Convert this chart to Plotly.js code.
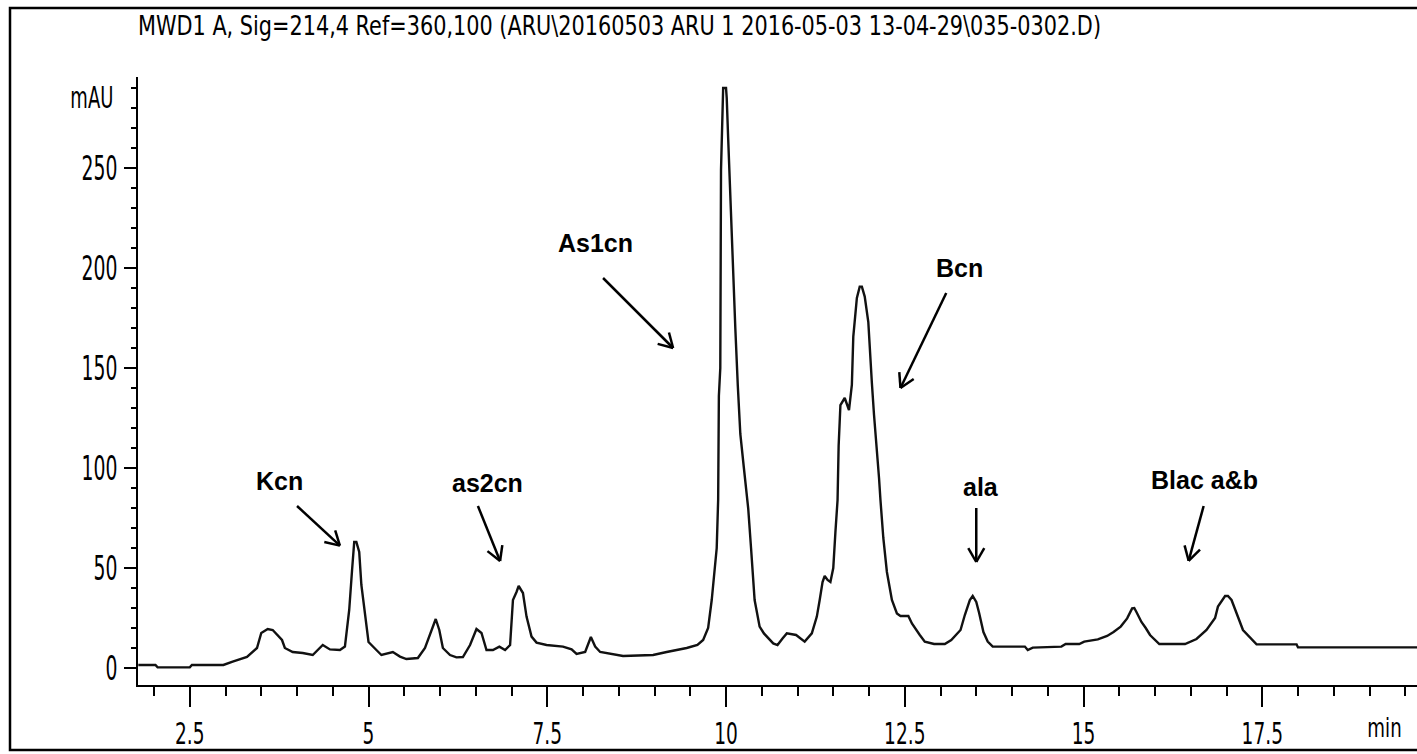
<!DOCTYPE html>
<html>
<head>
<meta charset="utf-8">
<script src="https://cdn.plot.ly/plotly-3.0.1.min.js"></script>
<style>html,body{margin:0;padding:0;background:#fff;}#chart{width:1417px;height:754px;}</style>
</head>
<body>
<div id="chart"></div>
<script>
// Retention time (min)
const time = [1.78,2.02,2.05,2.5,2.53,2.97,3.1,3.3,3.44,3.5,3.59,3.66,3.79,3.83,3.94,4.08,4.22,4.36,4.46,4.6,4.67,4.73,4.77,4.8,4.83,4.87,4.9,4.95,5.0,5.11,5.18,5.34,5.44,5.53,5.69,5.79,5.88,5.94,5.99,6.04,6.14,6.23,6.32,6.42,6.51,6.58,6.65,6.74,6.83,6.91,6.98,7.02,7.07,7.1,7.16,7.21,7.28,7.35,7.49,7.72,7.84,7.91,8.03,8.11,8.17,8.24,8.56,8.98,9.17,9.45,9.6,9.68,9.75,9.8,9.87,9.89,9.9,9.92,9.93,9.96,10.0,10.01,10.03,10.06,10.09,10.13,10.165,10.2,10.25,10.285,10.31,10.35,10.4,10.47,10.53,10.66,10.72,10.79,10.85,10.98,11.1,11.2,11.27,11.31,11.35,11.38,11.42,11.46,11.5,11.53,11.56,11.575,11.6,11.66,11.72,11.76,11.78,11.83,11.87,11.9,11.94,11.99,12.01,12.04,12.07,12.11,12.14,12.16,12.2,12.25,12.32,12.39,12.44,12.55,12.6,12.71,12.78,12.91,13.06,13.15,13.28,13.34,13.41,13.45,13.5,13.54,13.6,13.66,13.73,14.18,14.22,14.29,14.69,14.75,14.94,15.01,15.2,15.33,15.42,15.52,15.61,15.68,15.71,15.74,15.81,15.87,15.93,16.06,16.42,16.58,16.72,16.84,16.88,16.98,17.02,17.07,17.14,17.23,17.42,17.98,18.0,19.7];
// Absorbance (mAU)
const mAU = [1.5,1.5,0.3,0.3,1.5,1.5,3.2,5.5,10,17.5,19.5,19,14,10,8,7.5,6.5,11.5,9.3,9,10.7,29,49,63,63,58,41.5,25.7,13,9,6.5,8,5.7,4.5,5,10,19,24.5,19,10,6.5,5.3,5.5,11.5,19.5,17.5,9,9,10.7,9,11.5,34,38,41,37.5,25.7,15.7,12.7,11.5,10.7,9.3,7,8,15.5,10.7,8,6,6.5,8,10,11.5,14,20,34,60,84,136,150,249,290,290,285,265,235,203,170,141,117,100,89,80,60,34,20.7,17.3,12.3,11.5,14.8,17.3,16.5,13.2,17.3,25.7,34,43,46,44,43,50,68,84,111,131.5,135,129,141.5,165.7,185,190.7,190.7,185.7,173,158,142.5,126.5,110,95,84,65,48,34,27.3,26,26,22.3,16.5,13.2,12,12,14,19,26.5,34,36,33,27.5,18,13.2,10.7,10.7,9,10.2,10.7,12,12,13.2,14.3,16,18,20.7,24.8,29.8,30,28,23,20,16.5,12,12,14.5,19,25,30.7,36,36,34,27.5,19,11.8,11.8,10.3,10.3];

// Peak labels and arrows (label position, arrow tail, arrow head) in data units
const peakNames = ["Kcn","as2cn","As1cn","Bcn","ala","Blac a&b"];
const labelX = [3.76, 6.67, 8.18, 13.27, 13.57, 16.69];
const labelY = [93.5, 92.5, 212.5, 200, 90.5, 94];
const tailX  = [4.0, 6.53, 8.28, 13.08, 13.5, 16.68];
const tailY  = [81, 81, 195, 187.5, 80, 81];
const headX  = [4.6, 6.84, 9.26, 12.44, 13.5, 16.47];
const headY  = [61.2, 53.5, 160, 140, 53, 53.6];

const xTicks = [2.5, 5, 7.5, 10, 12.5, 15, 17.5];
const yTicks = [0, 50, 100, 150, 200, 250];

const titleText = "MWD1 A, Sig=214,4 Ref=360,100 (ARU\\20160503 ARU 1 2016-05-03 13-04-29\\035-0302.D)";

const W = 1417, H = 754;
const M = {l:138, r:0, t:77, b:69};
const xRange = [1.776, 19.664];
const yRange = [-8.5, 295.5];
const plotW = W - M.l - M.r, plotH = H - M.t - M.b;
const toPx = (x,y) => [M.l + (x - xRange[0])/(xRange[1]-xRange[0])*plotW, M.t + (yRange[1]-y)/(yRange[1]-yRange[0])*plotH];
const toData = (px,py) => [xRange[0] + (px - M.l)/plotW*(xRange[1]-xRange[0]), yRange[1] - (py - M.t)/plotH*(yRange[1]-yRange[0])];

const narrow = "DejaVu Sans, sans-serif";

const shapes = [];
const annotations = [];
for (let i = 0; i < peakNames.length; i++) {
  annotations.push({x: labelX[i], y: labelY[i], xref:'x', yref:'y', text: peakNames[i], showarrow:false,
    font:{family:'Liberation Sans, Arial, sans-serif', size:25, color:'#000', weight:'bold'}, xanchor:'center', yanchor:'middle'});
  shapes.push({type:'line', xref:'x', yref:'y', x0: tailX[i], y0: tailY[i], x1: headX[i], y1: headY[i], line:{color:'#000', width:2.5}});
  const [hx, hy] = toPx(headX[i], headY[i]);
  const [tx, ty] = toPx(tailX[i], tailY[i]);
  const ang = Math.atan2(ty - hy, tx - hx);
  const L = 16, sp = Math.PI/6;
  [ang + sp, ang - sp].forEach(a => {
    const [ex, ey] = toData(hx + L*Math.cos(a), hy + L*Math.sin(a));
    shapes.push({type:'line', xref:'x', yref:'y', x0: headX[i], y0: headY[i], x1: ex, y1: ey, line:{color:'#000', width:2.5}});
  });
}
// outer frame of the figure
const fx0 = (10 - M.l)/plotW, fx1 = (1430 - M.l)/plotW;
const fy0 = (M.t + plotH - 750)/plotH, fy1 = (M.t + plotH - 8)/plotH;
shapes.push({type:'rect', xref:'paper', yref:'paper', x0: fx0, x1: fx1, y0: fy0, y1: fy1, line:{color:'#000', width:2.5}});

annotations.push({xref:'paper', yref:'paper', x:(92 - M.l)/plotW, y:(M.t + plotH - 97)/plotH, text:'mAU', showarrow:false,
  font:{family:narrow, size:30, color:'#000'}, xanchor:'center', yanchor:'middle'});
annotations.push({xref:'paper', yref:'paper', x:(1384 - M.l)/plotW, y:(M.t + plotH - 728)/plotH, text:'min', showarrow:false,
  font:{family:narrow, size:26, color:'#000'}, xanchor:'center', yanchor:'middle'});

const trace = {x: time, y: mAU, type:'scatter', mode:'lines', line:{color:'#111', width:2.4}, hoverinfo:'skip'};

const layout = {
  width: W, height: H,
  margin: M,
  paper_bgcolor:'#fff', plot_bgcolor:'#fff',
  showlegend:false,
  title:{text: titleText, x: M.l/W, xanchor:'left', xref:'container', y: 1 - 26/H, yanchor:'middle',
    font:{family:narrow, size:27, color:'#000'}},
  xaxis:{range:xRange, showgrid:false, zeroline:false, showline:true, linecolor:'#000', linewidth:2,
    tickmode:'array', tickvals:xTicks, ticktext:xTicks.map(String), ticks:'outside', ticklen:20, tickwidth:2, tickcolor:'#000',
    ticklabelstandoff:0,
    minor:{dtick:0.5, tick0:0, ticks:'outside', ticklen:9, tickwidth:2, tickcolor:'#000'},
    tickfont:{family:narrow, size:31, color:'#000'}},
  yaxis:{range:yRange, showgrid:false, zeroline:false, showline:true, linecolor:'#000', linewidth:2,
    tickmode:'array', tickvals:yTicks, ticktext:yTicks.map(String), ticks:'outside', ticklen:12, tickwidth:2, tickcolor:'#000',
    ticklabelstandoff:0,
    minor:{dtick:10, tick0:0, ticks:'outside', ticklen:5, tickwidth:2, tickcolor:'#000'},
    tickfont:{family:narrow, size:33, color:'#000'}},
  shapes: shapes,
  annotations: annotations
};

function condense(el, factor, fixed) {
  const w = el.getComputedTextLength();
  el.setAttribute('textLength', fixed ? fixed : w * factor);
  el.setAttribute('lengthAdjust', 'spacingAndGlyphs');
}

Plotly.newPlot('chart', [trace], layout, {displayModeBar:false, staticPlot:true}).then(gd => {
  gd.querySelectorAll('.xtick text').forEach(el => condense(el, 0.6));
  gd.querySelectorAll('.ytick text').forEach(el => condense(el, 0.57));
  const t = gd.querySelector('.gtitle');
  if (t) condense(t, 0, 963);
  gd.querySelectorAll('.annotation-text').forEach(el => {
    if (el.textContent === 'mAU') condense(el, 0.6);
    if (el.textContent === 'min') condense(el, 0.7);
  });
});
</script>
</body>
</html>
